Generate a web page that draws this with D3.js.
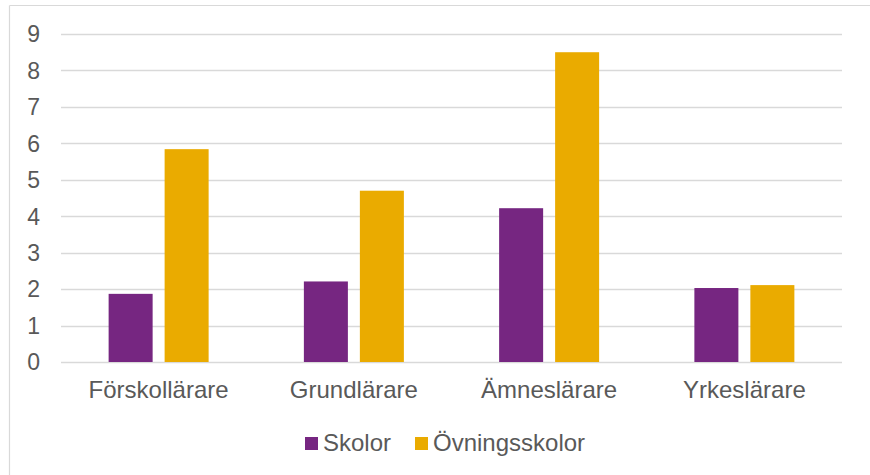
<!DOCTYPE html>
<html>
<head>
<meta charset="utf-8">
<script src="https://cdn.jsdelivr.net/npm/d3@7"></script>
<style>
  body { margin: 0; background: #fff; }
  text { font-family: "Liberation Sans", Arial, sans-serif; fill: #595959; }
</style>
</head>
<body>
<svg id="chart" width="870" height="475"></svg>
<script>
// data
var categories = ["Förskollärare", "Grundlärare", "Ämneslärare", "Yrkeslärare"];
var seriesNames = ["Skolor", "Övningsskolor"];
var skolor = [1.87, 2.21, 4.22, 2.03];
var ovningsskolor = [5.84, 4.70, 8.50, 2.11];
var yTicks = [0, 1, 2, 3, 4, 5, 6, 7, 8, 9];
var colors = ["#762681", "#EAAB00"];

var w = 870, h = 475;
var plotLeft = 61, plotRight = 842, plotTop = 34, plotBottom = 362;

var svg = d3.select("#chart");

// chart border (top + left only show in the picture)
svg.append("line").attr("x1", 9.5).attr("x2", w).attr("y1", 5.5).attr("y2", 5.5)
  .attr("stroke", "#d9d9d9").attr("stroke-width", 1.2);
svg.append("line").attr("x1", 9.5).attr("x2", 9.5).attr("y1", 5.5).attr("y2", h)
  .attr("stroke", "#d9d9d9").attr("stroke-width", 1.2);

var y = d3.scaleLinear().domain([0, 9]).range([plotBottom, plotTop]);
var x0 = d3.scaleBand().domain(categories).range([plotLeft, plotRight]).padding(0);
var bw = x0.bandwidth();
var x1 = d3.scaleBand().domain(seriesNames)
  .range([(bw - 100) / 2, (bw + 100) / 2]).paddingInner(0.214).paddingOuter(0);

// gridlines
svg.append("g").selectAll("line").data(yTicks).enter().append("line")
  .attr("x1", plotLeft).attr("x2", plotRight)
  .attr("y1", function(d) { return Math.round(y(d)) + 0.5; })
  .attr("y2", function(d) { return Math.round(y(d)) + 0.5; })
  .attr("stroke", "#d9d9d9").attr("stroke-width", 1.4);

// y tick labels
svg.append("g").selectAll("text").data(yTicks).enter().append("text")
  .attr("x", 40).attr("y", function(d) { return y(d); })
  .attr("dy", "0.36em")
  .attr("text-anchor", "end")
  .style("font-size", "23px")
  .text(function(d) { return d; });

var rows = categories.map(function(c, i) {
  return { cat: c, values: [skolor[i], ovningsskolor[i]] };
});

var groups = svg.append("g").selectAll("g").data(rows).enter().append("g")
  .attr("transform", function(d) { return "translate(" + x0(d.cat) + ",0)"; });

groups.selectAll("rect").data(function(d) {
    return d.values.map(function(v, j) { return { s: seriesNames[j], v: v, j: j }; });
  }).enter().append("rect")
  .attr("x", function(d) { return x1(d.s); })
  .attr("width", x1.bandwidth())
  .attr("y", function(d) { return y(d.v); })
  .attr("height", function(d) { return y(0) - y(d.v); })
  .attr("fill", function(d) { return colors[d.j]; });

// category labels
svg.append("g").selectAll("text").data(categories).enter().append("text")
  .attr("x", function(d) { return x0(d) + bw / 2; })
  .attr("y", 398)
  .attr("text-anchor", "middle")
  .style("font-size", "24px")
  .text(function(d) { return d; });

// legend
var legendX = [305, 415];
var leg = svg.append("g").selectAll("g").data(seriesNames).enter().append("g")
  .attr("transform", function(d, i) { return "translate(" + legendX[i] + ",437)"; });
leg.append("rect").attr("width", 13).attr("height", 13)
  .attr("fill", function(d, i) { return colors[i]; });
leg.append("text").attr("x", 18).attr("y", 13.5)
  .style("font-size", "24px")
  .text(function(d) { return d; });
</script>
</body>
</html>
